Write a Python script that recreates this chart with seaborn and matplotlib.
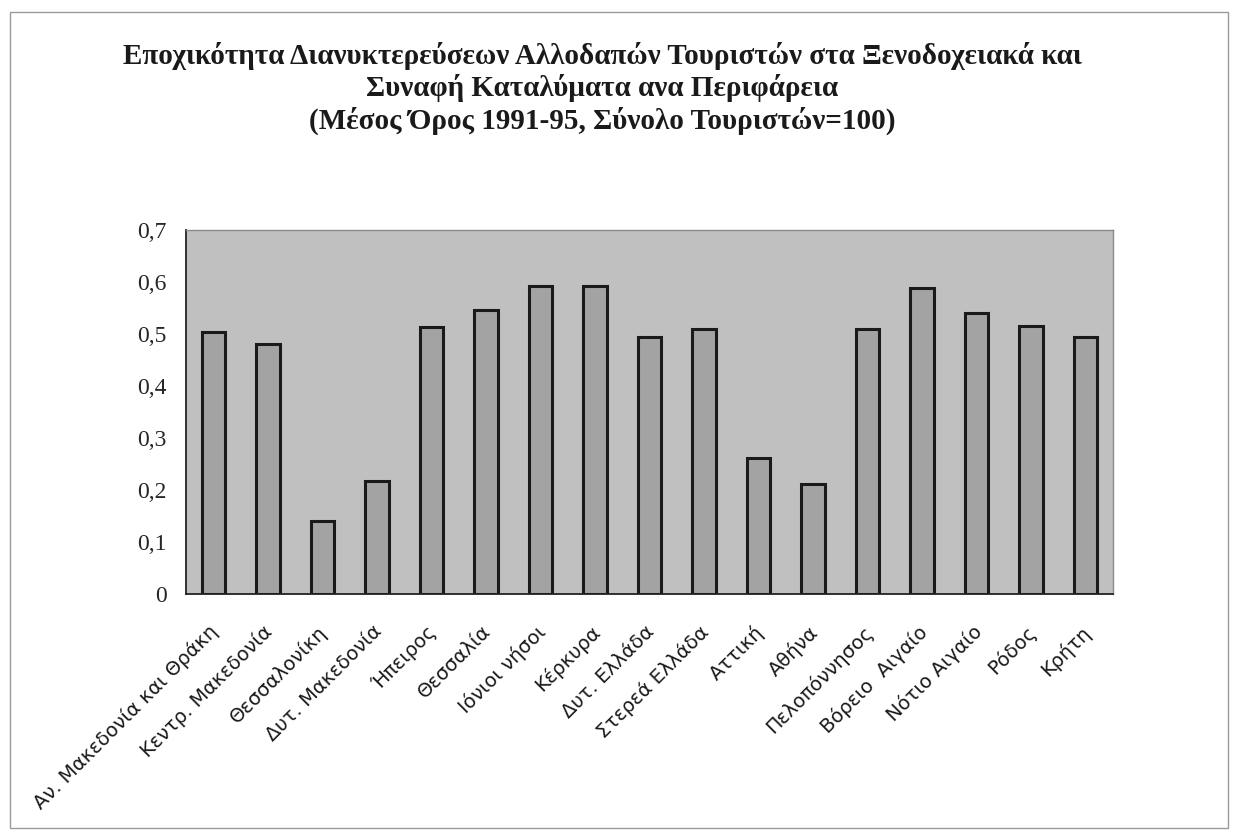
import matplotlib
matplotlib.use("Agg")
import matplotlib.pyplot as plt
import matplotlib.transforms as mtransforms
from matplotlib.patches import Rectangle
import seaborn as sns
import pandas as pd
import numpy as np
from matplotlib.ticker import FuncFormatter, FixedLocator

regions = ["Αν. Μακεδονία και Θράκη", "Κεντρ. Μακεδονία", "Θεσσαλονίκη", "Δυτ. Μακεδονία",
           "Ήπειρος", "Θεσσαλία", "Ιόνιοι νήσοι", "Κέρκυρα", "Δυτ. Ελλάδα", "Στερεά Ελλάδα",
           "Αττική", "Αθήνα", "Πελοπόννησος", "Βόρειο  Αιγαίο", "Νότιο Αιγαίο", "Ρόδος", "Κρήτη"]
values = [0.503, 0.480, 0.141, 0.217, 0.514, 0.547, 0.592, 0.592, 0.494, 0.510,
          0.262, 0.212, 0.509, 0.589, 0.540, 0.515, 0.494]
yticks = [0, 0.1, 0.2, 0.3, 0.4, 0.5, 0.6, 0.7]

title = ("Εποχικότητα Διανυκτερεύσεων Αλλοδαπών Τουριστών στα Ξενοδοχειακά και\n"
         "Συναφή Καταλύματα ανα Περιφάρεια\n"
         "(Μέσος Όρος 1991-95, Σύνολο Τουριστών=100)")

df = pd.DataFrame({"region": regions, "value": values})

sns.set_style("white")
plt.rcParams['font.family'] = ['DejaVu Sans']

fig = plt.figure(figsize=(12.33, 8.33), dpi=100)
ax = fig.add_axes([186/1233, 1 - 594/833, (1113-186)/1233, (594-230)/833])
ax.set_facecolor("#c0c0c0")

sns.barplot(data=df, x="region", y="value", color="#a3a3a3", edgecolor="#1a1a1a",
            linewidth=2.2, width=0.43, saturation=1, ax=ax)

ax.set_xlim(-0.5, len(regions) - 0.5)
ax.set_ylim(0, 0.7)
ax.set_xlabel("")
ax.set_ylabel("")

ax.set_yticks(yticks)
ax.yaxis.set_major_formatter(FuncFormatter(lambda v, p: "0" if v == 0 else f"{v:.1f}".replace(".", ",")))
for lbl in ax.get_yticklabels():
    lbl.set_fontfamily("Liberation Serif")
    lbl.set_fontsize(17)
ax.tick_params(axis="y", direction="out", length=3, width=1, color="#333333", pad=11)

ax.set_xticks(range(len(regions)))
ax.set_xticklabels(regions, rotation=45, ha="right", va="top", rotation_mode="anchor",
                   fontsize=14, fontfamily="DejaVu Sans", color="#1a1a1a")
ax.tick_params(axis="x", which="major", length=0, pad=18)
offset = mtransforms.ScaledTranslation(-5/100, -3/100, fig.dpi_scale_trans)
for lbl in ax.get_xticklabels():
    lbl.set_transform(lbl.get_transform() + offset)
ax.xaxis.set_minor_locator(FixedLocator(np.arange(-0.5, len(regions), 1.0)))
ax.tick_params(axis="x", which="minor", direction="out", length=4, width=1, color="#333333")

for side in ["left", "bottom"]:
    ax.spines[side].set_color("#222222")
    ax.spines[side].set_linewidth(1.3)
for side in ["top", "right"]:
    ax.spines[side].set_color("#8a8a8a")
    ax.spines[side].set_linewidth(1.0)

fig.text(602/1233, 1 - 42/833, title, ha="center", va="top", fontsize=21,
         fontweight="bold", fontfamily="Liberation Serif", linespacing=1.2, color="#1a1a1a")

fig.patches.append(Rectangle((10/1233, 5/833), 1218/1233, 816/833, transform=fig.transFigure,
                             fill=False, edgecolor="#9a9a9a", linewidth=1.0))

fig.savefig("out.png", dpi=100, facecolor="white")
